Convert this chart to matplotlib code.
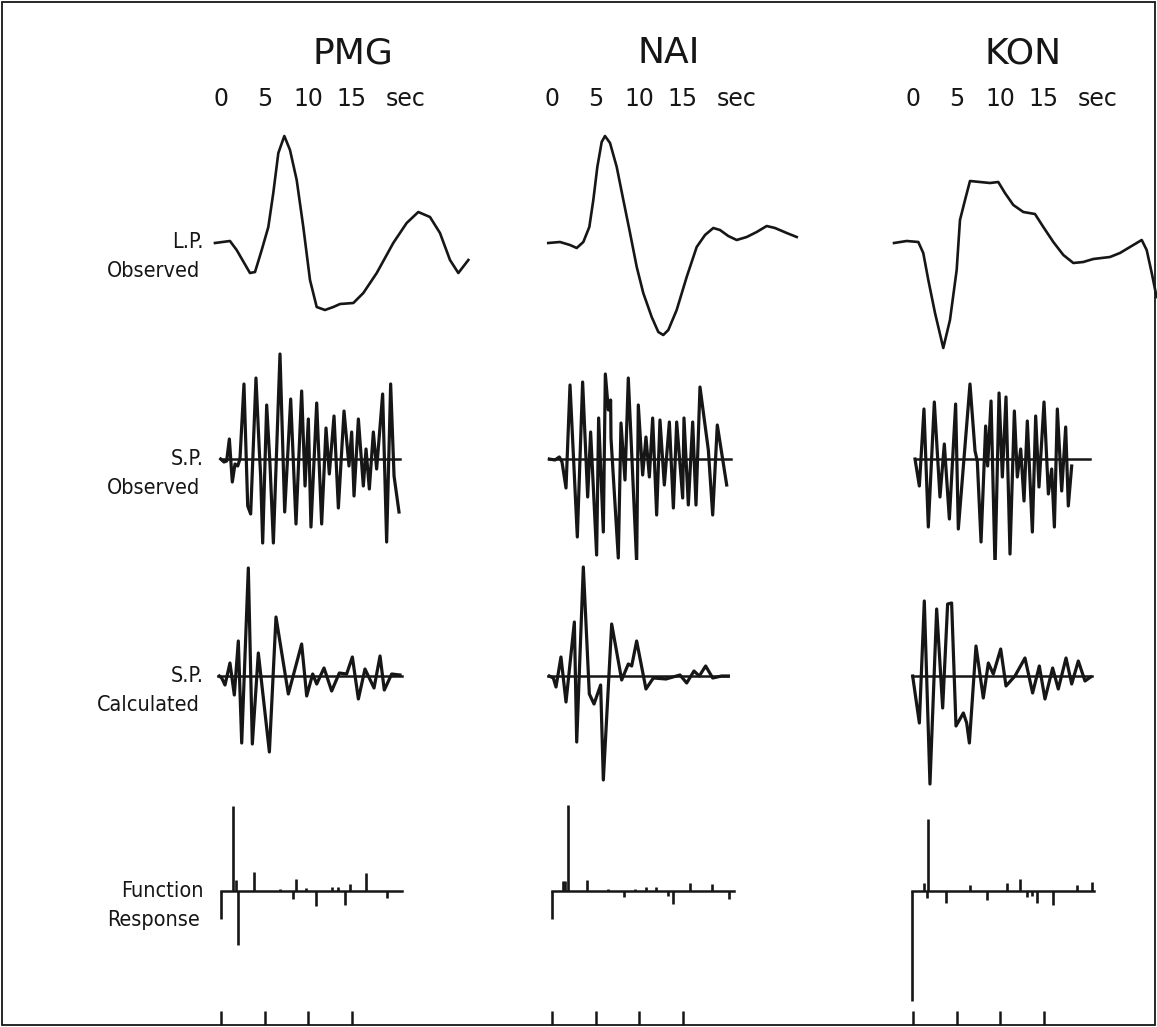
import numpy as np
import matplotlib.pyplot as plt

# --- data (time in s, amplitude in arbitrary units) ---

# Long period observed
pmg_lp_t = [-0.69, 1.03, 1.80, 3.33, 3.91, 4.68, 5.44, 6.01, 6.59, 7.28, 7.93, 8.70, 9.46, 10.23,
            11.0, 11.95, 12.91, 13.68, 15.21, 16.36, 17.90, 19.80, 21.34, 22.68, 24.02, 25.17,
            26.32, 27.28, 28.43]
pmg_lp_a = [-1, 1, -8, -31, -30, -8, 15, 49, 89, 106, 92, 62, 15, -38,
            -65, -68, -65, -62, -61, -51, -31, -1, 19, 30, 25, 9,
            -18, -31, -18]

nai_lp_t = [-0.43, 0.92, 2.07, 2.84, 3.60, 4.29, 4.75, 5.21, 5.71, 6.09, 6.67, 7.44, 8.20, 8.97,
            9.74, 10.49, 11.46, 12.22, 12.79, 13.37, 14.33, 15.48, 16.63, 17.59, 18.54, 19.31,
            20.26, 21.23, 22.38, 23.53, 24.68, 25.63, 26.98, 28.13]
nai_lp_a = [-1, 0, -3, -6, 0, 15, 42, 75, 100, 106, 99, 75, 42, 9,
            -25, -51, -75, -90, -93, -88, -68, -35, -5, 7, 14, 12,
            6, 2, 5, 10, 16, 14, 9, 5]

kon_lp_t = [-2.18, -0.72, 0.61, 1.18, 1.76, 2.53, 3.48, 4.25, 5.02, 5.40, 5.98, 6.55, 7.70, 8.85,
            9.80, 10.57, 11.53, 12.68, 14.02, 14.98, 16.13, 17.28, 18.43, 19.57, 20.72, 22.64,
            23.79, 24.94, 26.29, 26.86, 27.44, 28.0]
kon_lp_a = [-1, 1, 0, -11, -38, -71, -106, -78, -28, 22, 42, 61, 60, 59,
            60, 49, 37, 30, 28, 15, 0, -13, -21, -20, -17, -15,
            -11, -5, 2, -8, -31, -55]

# Short period observed
pmg_spo_t = [-0.04, 0.34, 0.65, 0.96, 1.30, 1.61, 1.92, 2.18, 2.64, 3.07, 3.41, 4.02, 4.41, 4.56,
             4.79, 5.25, 5.63, 6.02, 6.78, 7.32, 8.01, 8.62, 9.27, 9.66, 10.04, 10.34, 11.0,
             11.57, 12.07, 12.45, 12.99, 13.49, 14.14, 14.71, 15.02, 15.29, 15.79, 16.36, 16.67,
             17.05, 17.51, 17.89, 18.58, 19.04, 19.50, 19.89, 20.46]
pmg_spo_a = [0, -3, -2, 20, -23, -5, -7, 0, 75, -47, -55, 81, 7, -17,
             -84, 54, -5, -84, 105, -53, 60, -65, 68, -27, 40, -68, 56,
             -65, 31, -15, 43, -49, 48, -7, 27, -37, 40, -27, 10,
             -30, 27, -10, 65, -83, 75, -17, -53]
pmg_spo_span = [-0.04, 20.57]

nai_spo_t = [-0.31, 0.34, 0.84, 1.15, 1.61, 2.07, 2.91, 3.52, 4.10, 4.44, 5.13, 5.36, 5.90, 6.13,
             6.48, 6.74, 6.78, 7.62, 7.93, 8.39, 8.77, 9.73, 9.92, 10.42, 10.80, 11.19, 11.57,
             12.03, 12.41, 12.91, 13.49, 13.95, 14.33, 15.02, 15.17, 15.67, 16.17, 16.55, 17.01,
             17.97, 18.47, 19.0, 20.08]
nai_spo_a = [0, -1, 2, -3, -29, 74, -78, 77, -38, 27, -96, 41, -73, 85,
             49, 59, 21, -99, 36, -21, 81, -104, 54, -16, 22, -18, 41,
             -56, 39, -26, 37, -49, 37, -39, 41, -46, 37, -46, 72,
             9, -56, 34, -26]
nai_spo_span = [-0.31, 20.54]

kon_spo_t = [0.23, 0.73, 1.26, 1.76, 2.45, 3.10, 3.60, 4.18, 4.90, 5.21, 6.55, 7.13, 7.39, 7.82,
             8.35, 8.58, 8.97, 9.43, 9.89, 10.27, 10.69, 11.15, 11.65, 11.99, 12.38, 12.76,
             13.14, 13.72, 14.10, 14.48, 15.06, 15.56, 15.94, 16.25, 16.59, 17.09, 17.55, 17.85,
             18.24]
kon_spo_a = [0, -27, 50, -68, 57, -38, 15, -60, 55, -70, 75, 8, -2, -83,
             33, -7, 58, -108, 66, -18, 62, -95, 48, -18, 10, -42,
             38, -73, 43, -28, 57, -35, -10, -68, 50, -32, 32, -47,
             -7]
kon_spo_span = [0.23, 20.4]

# Short period calculated
pmg_spc_t = [-0.19, 0.08, 0.46, 1.03, 1.53, 1.99, 2.38, 3.14, 3.60, 4.29, 5.56, 6.32, 7.74, 9.27,
             9.85, 10.54, 11.0, 11.84, 12.72, 13.60, 14.44, 15.10, 15.79, 16.55, 17.59, 18.28,
             18.77, 19.62, 20.57]
pmg_spc_a = [0, -2, -9, 13, -19, 35, -67, 108, -68, 23, -76, 59, -18, 32,
             -20, 2, -8, 8, -15, 3, 2, 19, -23, 7, -12, 20,
             -14, 2, 1]
pmg_spc_span = [-0.31, 20.77]

nai_spc_t = [-0.31, 0.15, 0.46, 1.03, 1.61, 2.57, 2.84, 3.60, 4.29, 4.83, 5.59, 5.90, 6.86, 8.01,
             8.77, 9.16, 9.73, 10.80, 11.65, 13.10, 14.71, 15.48, 16.32, 16.93, 17.66, 18.47,
             19.50, 20.27]
nai_spc_a = [0, -2, -11, 19, -26, 54, -66, 109, -18, -28, -9, -104, 52, -4,
             12, 10, 35, -13, -2, -3, 1, -7, 5, 0, 10, -2,
             0, 0]
nai_spc_span = [-0.42, 20.27]

kon_spc_t = [-0.04, 0.73, 1.30, 1.95, 2.72, 3.41, 3.98, 4.44, 4.94, 5.79, 6.17, 6.48, 7.24, 8.08,
             8.66, 9.23, 10.08, 10.69, 11.72, 12.87, 13.75, 14.52, 15.17, 16.05, 16.70, 17.59,
             18.24, 19.0, 19.77, 20.42]
kon_spc_a = [0, -47, 75, -108, 67, -32, 72, 73, -50, -37, -47, -67, 30, -22,
             13, 2, 27, -10, 0, 18, -17, 10, -23, 8, -13, 18,
             -8, 15, -5, -1]
kon_spc_span = [-0.15, 20.54]

# Function response (spike times and heights)
pmg_fr_t = [-0.04, 1.34, 1.72, 1.92, 3.79, 6.78, 8.31, 8.62, 9.77, 10.92, 12.72, 13.41, 14.25,
            14.83, 16.63, 19.12]
pmg_fr_a = [-28, 85, 11, -54, 19, 2, -8, 12, 3, -15, 4, 4, -14,
            7, 18, -7]
pmg_fr_span = [-0.04, 20.77]

nai_fr_t = [-0.04, 1.23, 1.49, 1.88, 3.98, 6.48, 8.28, 9.54, 10.77, 11.95, 13.37, 13.95, 15.86,
            18.35, 20.34]
nai_fr_a = [-28, 10, 10, 86, 11, 2, -6, 2, 4, 4, -5, -13, 8,
            7, -8]
nai_fr_span = [-0.04, 20.92]

kon_fr_t = [-0.15, 1.26, 1.57, 1.76, 3.79, 6.55, 8.54, 10.77, 12.30, 13.14, 13.64, 14.29, 16.05,
            18.81, 20.54]
kon_fr_a = [-110, 8, -7, 72, -12, 6, -9, 8, 12, -6, -5, -12, -14,
            6, 9]
kon_fr_span = [-0.15, 20.80]

stations = ["PMG", "NAI", "KON"]
tick_secs = [0, 5, 10, 15]
row_labels = [("L.P.", "Observed"), ("S.P.", "Observed"),
              ("S.P.", "Calculated"), ("Function", "Response")]

# --- layout (figure pixels) ---
W, H = 1157, 1027
PPS = 8.7                      # pixels per second
col_t0 = [221, 552, 913]       # pixel x of t = 0 in each column
name_t = [15.2, 13.4, 12.6]    # station name position (s)
rows = [(117, 350, 242), (350, 560, 459), (560, 800, 676), (800, 1025, 891)]
T0, T1 = -2.5, 30

fig = plt.figure(figsize=(W / 100, H / 100), dpi=100)
ink = "#161616"


def px_axes(left, top, width, height):
    return fig.add_axes([left / W, 1 - (top + height) / H, width / W, height / H])


traces = {
    "PMG": [(pmg_lp_t, pmg_lp_a), (pmg_spo_t, pmg_spo_a, pmg_spo_span),
            (pmg_spc_t, pmg_spc_a, pmg_spc_span), (pmg_fr_t, pmg_fr_a, pmg_fr_span)],
    "NAI": [(nai_lp_t, nai_lp_a), (nai_spo_t, nai_spo_a, nai_spo_span),
            (nai_spc_t, nai_spc_a, nai_spc_span), (nai_fr_t, nai_fr_a, nai_fr_span)],
    "KON": [(kon_lp_t, kon_lp_a), (kon_spo_t, kon_spo_a, kon_spo_span),
            (kon_spc_t, kon_spc_a, kon_spc_span), (kon_fr_t, kon_fr_a, kon_fr_span)],
}

for c, st in enumerate(stations):
    left = col_t0[c] + T0 * PPS
    width = (T1 - T0) * PPS

    # header: time scale
    hx = px_axes(left, 117, width, 12)
    hx.set_xlim(T0, T1)
    hx.set_ylim(0, 1)
    for s in hx.spines.values():
        s.set_visible(False)
    hx.set_yticks([])
    hx.set_xticks(tick_secs)
    hx.set_xticklabels([str(v) for v in tick_secs])
    hx.tick_params(axis="x", top=True, bottom=False, labeltop=True, labelbottom=False,
                   direction="in", length=8.5, width=1.8, color=ink, pad=4,
                   labelsize=17, labelcolor=ink)
    hx.annotate("sec", xy=(21.2, 1), xycoords=("data", "axes fraction"),
                xytext=(0, 4), textcoords="offset points", ha="center", va="bottom",
                fontsize=17, color=ink)
    hx.annotate(st, xy=(name_t[c], 1), xycoords=("data", "axes fraction"),
                xytext=(0, 46), textcoords="offset points", ha="center", va="center",
                fontsize=26, color=ink)

    for r, (top, bottom, base) in enumerate(rows):
        ax = px_axes(left, top, width, bottom - top)
        ax.set_xlim(T0, T1)
        ax.set_ylim(-(bottom - base), base - top)
        for s in ax.spines.values():
            s.set_visible(False)
        ax.set_yticks([])
        data = traces[st][r]
        if r == 0:
            ax.plot(data[0], data[1], color=ink, lw=1.9, clip_on=False,
                    solid_joinstyle="round")
            ax.set_xticks([])
        elif r in (1, 2):
            ax.plot(data[2], [0, 0], color=ink, lw=1.8, clip_on=False)
            ax.plot(data[0], data[1], color=ink, lw=2.3, clip_on=False,
                    solid_joinstyle="round")
            ax.set_xticks([])
        else:
            ax.plot(data[2], [0, 0], color=ink, lw=1.8, clip_on=False)
            ax.vlines(data[0], 0, data[1], color=ink, lw=1.9, clip_on=False)
            ax.set_xticks(tick_secs)
            ax.tick_params(axis="x", direction="in", length=10, width=1.8,
                           color=ink, labelbottom=False)

# row labels (narrow lettering)
for (l1, l2), (top, bottom, base) in zip(row_labels, rows):
    fig.text(204 / W, 1 - base / H, l1, ha="right", va="center", fontsize=15.5,
             family="DejaVu Sans", fontstretch="condensed", color=ink)
    fig.text(200 / W, 1 - (base + 29) / H, l2, ha="right", va="center", fontsize=15.5,
             family="DejaVu Sans", fontstretch="condensed", color=ink)

# frame around the plate
fig.add_artist(plt.Rectangle((2 / W, 2 / H), (W - 4) / W, (H - 4) / H,
                             transform=fig.transFigure, fill=False, lw=1.3, color=ink))

fig.savefig("out.png", dpi=100, facecolor="white")
